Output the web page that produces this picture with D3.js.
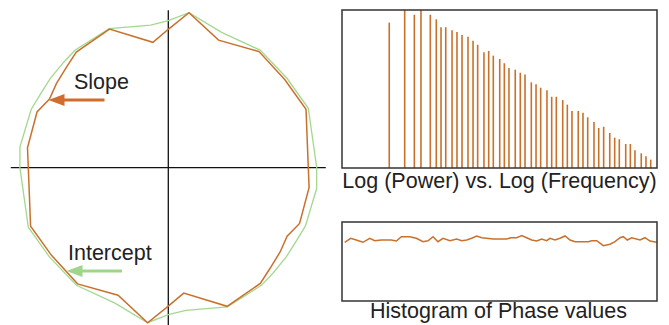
<!DOCTYPE html>
<html lang="en">
<head>
  <meta charset="UTF-8">
  <title>Polar slope / intercept</title>
  <script src="https://cdn.jsdelivr.net/npm/d3@7"></script>
  <style>
    body { margin: 0; background: #fff; }
    text { font-family: "Liberation Sans", Arial, sans-serif; fill: #222; }
  </style>
</head>
<body>
<svg class="chart"></svg>
<script>
  // polar plot: direction (deg) -> slope / intercept, mirrored for +180
  var angles = [0, 23, 37, 52, 68.5, 82.4, 90, 97, 113, 128.5, 135, 143, 150, 157, 172];
  var slope = [1.40, 1.496, 1.46, 1.474, 1.371, 1.564, 1.384, 1.263, 1.506, 1.478, 1.433, 1.40, 1.372, 1.426, 1.422];
  var intercept = [1.484, 1.521, 1.486, 1.492, 1.455, 1.564, 1.47, 1.437, 1.511, 1.50, 1.485, 1.479, 1.475, 1.49, 1.498];

  // log power vs log frequency
  var logFreq = [0.450, 0.597, 0.689, 0.752, 0.841, 0.898, 0.943, 0.988, 1.048, 1.095,
    1.143, 1.200, 1.248, 1.292, 1.352, 1.397, 1.441, 1.502, 1.546, 1.590,
    1.650, 1.698, 1.743, 1.803, 1.848, 1.892, 1.952, 1.997, 2.041, 2.102,
    2.146, 2.190, 2.250, 2.295, 2.340, 2.400, 2.445, 2.492, 2.550, 2.597,
    2.641, 2.702, 2.746, 2.790, 2.850, 2.895, 2.940];
  var logPower = [0.920, 1.000, 0.970, 1.000, 0.970, 0.941, 0.891, 0.891, 0.872, 0.861,
    0.842, 0.831, 0.806, 0.780, 0.732, 0.741, 0.711, 0.690, 0.663, 0.633,
    0.622, 0.603, 0.591, 0.542, 0.530, 0.508, 0.492, 0.451, 0.451, 0.430,
    0.401, 0.361, 0.361, 0.350, 0.321, 0.291, 0.253, 0.261, 0.222, 0.192,
    0.182, 0.152, 0.152, 0.112, 0.093, 0.074, 0.053];

  // histogram of phase values
  var phase = [-176.9, -170.1, -163.7, -156, -148.3, -142.6, -135.1, -123.7, -117.9, -112.2,
    -102.6, -95.1, -87.4, -81.7, -76, -70.3, -64.6, -56.6, -48.9, -43.2,
    -37.5, -31.8, -26.1, -20.3, -7.1, 8.2, 13.1, 19.7, 25.4, 31.1,
    36.8, 42.5, 48.2, 53.9, 57.7, 63.4, 69.1, 74.9, 80.6, 86.3,
    101.5, 105.4, 111.1, 118.6, 126.3, 132, 137.7, 141.5, 146.1, 151.1,
    160.6, 166.3, 172, 179.7];
  var phaseCount = [74.3, 79.4, 77.2, 74.3, 79.4, 76.3, 77.2, 77.2, 75.9, 81.4,
    81.4, 79.4, 75.1, 76.3, 81.4, 75.1, 79.4, 76.3, 78.5, 76.3,
    77.2, 79.4, 82.3, 80.1, 78.5, 78.5, 80.1, 80.1, 82.7, 80.1,
    77.2, 75.9, 78.5, 76.3, 79.4, 77.2, 79.4, 82.3, 77.2, 75.1,
    75.1, 76.3, 76.3, 70.0, 71.8, 75.1, 80.1, 81.4, 77.2, 80.1,
    77.2, 80.1, 75.9, 74.3];

  var orange = '#c9712c';
  var green = '#a3d88f';

  var svg = d3.select('.chart')
  .attr('width', 669)
  .attr('height', 325);

  // ---- polar plot ----
  var cx = 168.3, cy = 167.7;
  var rScale = d3.scaleLinear().domain([0, 1]).range([0, 100]);
  var axisR = rScale(1.575);

  var polar = svg.append('g')
  .attr('transform', 'translate(' + cx + ',' + cy + ')');

  polar.append('line')
  .attr('x1', -axisR).attr('x2', axisR).attr('y1', 0).attr('y2', 0)
  .attr('stroke', '#111').attr('stroke-width', 1.3);
  polar.append('line')
  .attr('x1', 0).attr('x2', 0).attr('y1', -axisR).attr('y2', axisR)
  .attr('stroke', '#111').attr('stroke-width', 1.3);

  function mirrored(values) {
    var pts = angles.map(function(a, i) { return {a: a, r: values[i]}; });
    return pts.concat(angles.map(function(a, i) { return {a: a + 180, r: values[i]}; }));
  }

  var radial = d3.lineRadial()
  .angle(function(d) { return (90 - d.a) * Math.PI / 180; })
  .radius(function(d) { return rScale(d.r); })
  .curve(d3.curveLinearClosed);

  polar.append('path')
  .attr('d', radial(mirrored(intercept)))
  .attr('fill', 'none')
  .attr('stroke', green)
  .attr('stroke-width', 1.3);

  polar.append('path')
  .attr('d', radial(mirrored(slope)))
  .attr('fill', 'none')
  .attr('stroke', orange)
  .attr('stroke-width', 1.5);

  // labels + arrows
  function arrow(x1, x0, y, color) {
    svg.append('line')
    .attr('x1', x1).attr('x2', x0 + 12).attr('y1', y).attr('y2', y)
    .attr('stroke', color).attr('stroke-width', 3);
    svg.append('path')
    .attr('d', 'M' + x0 + ',' + y + 'L' + (x0 + 16) + ',' + (y - 6) + 'L' + (x0 + 16) + ',' + (y + 6) + 'Z')
    .attr('fill', color);
  }

  svg.append('text').attr('x', 74).attr('y', 89.3)
  .style('font-size', '21.5px').text('Slope');
  arrow(104.5, 48.5, 100, '#d06d2c');

  svg.append('text').attr('x', 68).attr('y', 260)
  .style('font-size', '21.5px').text('Intercept');
  arrow(122, 66.5, 271, '#9fd68c');

  // ---- log power vs log frequency ----
  var x1 = d3.scaleLinear().domain([0, 3]).range([342, 657]);
  var y1 = d3.scaleLinear().domain([0, 1]).range([168, 10]);

  svg.selectAll('.bar')
  .data(logFreq)
  .enter()
  .append('line')
  .attr('class', 'bar')
  .attr('x1', function(d) { return x1(d); })
  .attr('x2', function(d) { return x1(d); })
  .attr('y1', y1(0))
  .attr('y2', function(d, i) { return y1(logPower[i]); })
  .attr('stroke', orange)
  .attr('stroke-width', 1.6);

  svg.append('rect')
  .attr('x', x1(0)).attr('y', y1(1))
  .attr('width', x1(3) - x1(0)).attr('height', y1(0) - y1(1))
  .attr('fill', 'none').attr('stroke', '#333').attr('stroke-width', 1.5);

  svg.append('text')
  .attr('x', (x1(0) + x1(3)) / 2).attr('y', 187.5)
  .attr('text-anchor', 'middle')
  .style('font-size', '21.5px')
  .text('Log (Power) vs. Log (Frequency)');

  // ---- phase histogram ----
  var x2 = d3.scaleLinear().domain([-180, 180]).range([342, 657]);
  var y2 = d3.scaleLinear().domain([0, 100]).range([301, 222]);

  svg.append('path')
  .datum(phase)
  .attr('d', d3.line()
    .x(function(d) { return x2(d); })
    .y(function(d, i) { return y2(phaseCount[i]); }))
  .attr('fill', 'none')
  .attr('stroke', orange)
  .attr('stroke-width', 1.5);

  svg.append('rect')
  .attr('x', x2(-180)).attr('y', y2(100))
  .attr('width', x2(180) - x2(-180)).attr('height', y2(0) - y2(100))
  .attr('fill', 'none').attr('stroke', '#333').attr('stroke-width', 1.5);

  svg.append('text')
  .attr('x', 498.5).attr('y', 318)
  .attr('text-anchor', 'middle')
  .style('font-size', '21.5px')
  .text('Histogram of Phase values');
</script>
</body>
</html>
